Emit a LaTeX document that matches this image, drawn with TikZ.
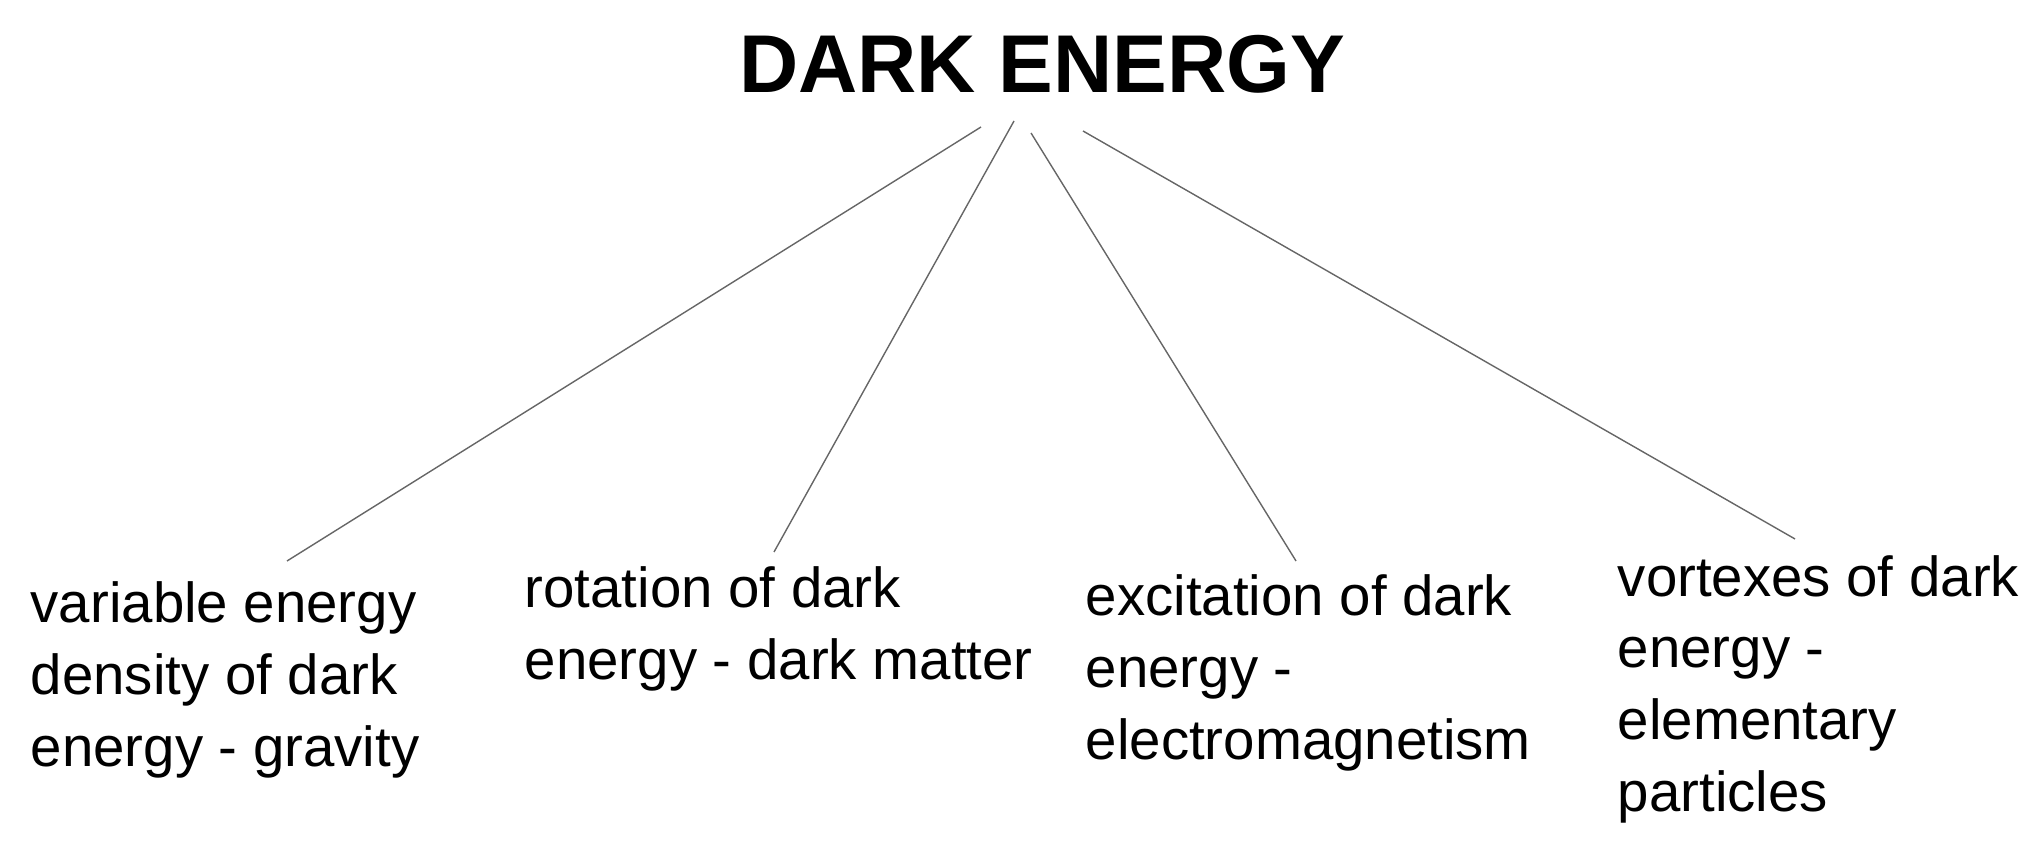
\documentclass[tikz,border=0pt]{standalone}
\usepackage{fontspec}
\setmainfont{Liberation Sans}
\usepackage{tikz}
\usetikzlibrary{positioning,calc}

\begin{document}
\begin{tikzpicture}[
    x=0.25pt, y=-0.25pt,
    head/.style={inner sep=0pt, anchor=base, font=\fontsize{20.5}{24}\selectfont\bfseries},
    item/.style={inner sep=0pt, anchor=base west, align=left, font=\fontsize{14.1}{17.9}\selectfont},
    branch/.style={line width=0.35pt, black!60}
]
\useasboundingbox (0,0) rectangle (2040,853);

% Title
\node[head] (dark) at (1042,93) {DARK ENERGY};

% Items (placed by the baseline of their last line)
\node[item] (grav) at (30,766) {variable energy\\density of dark\\energy - gravity};
\node[item] (matter) at (524,679) {rotation of dark\\energy - dark matter};
\node[item] (emag) at (1085,759) {excitation of dark\\energy -\\electromagnetism};
\node[item] (part) at (1617,811) {vortexes of dark\\energy -\\elementary\\particles};

% Branch ends
\coordinate (t1) at (981,127);
\coordinate (t2) at (1014,121);
\coordinate (t3) at (1031,133);
\coordinate (t4) at (1083,131);
\coordinate (b1) at (287,561);
\coordinate (b2) at (774,552);
\coordinate (b3) at (1296,561);
\coordinate (b4) at (1795,539);

\draw[branch] (t1) -- (b1);
\draw[branch] (t2) -- (b2);
\draw[branch] (t3) -- (b3);
\draw[branch] (t4) -- (b4);
\end{tikzpicture}
\end{document}
